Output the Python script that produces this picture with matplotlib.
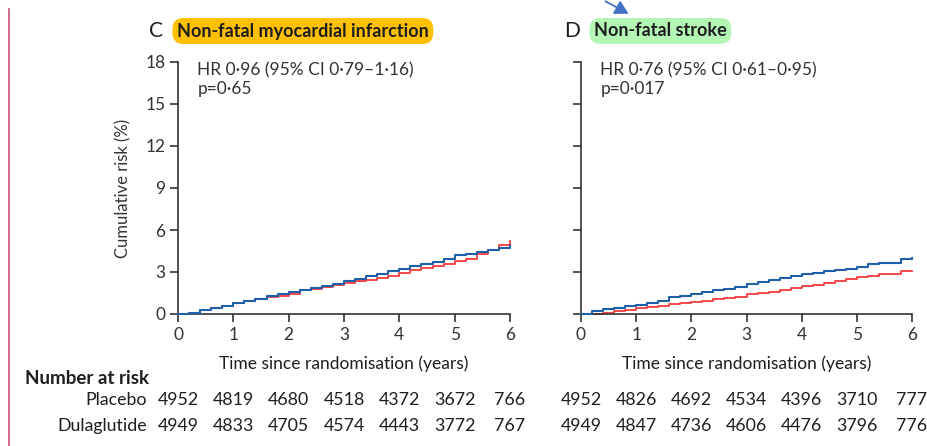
import matplotlib
matplotlib.use("Agg")
import matplotlib.pyplot as plt
from matplotlib.lines import Line2D
from matplotlib.patches import FancyArrowPatch

plt.rcParams['font.family'] = ['Lato', 'DejaVu Sans']

# time grid the curves were read at (years)
years = [0.0, 0.2, 0.4, 0.6, 0.8, 1.0, 1.2, 1.4, 1.6, 1.8, 2.0, 2.2, 2.4, 2.6, 2.8,
         3.0, 3.2, 3.4, 3.6, 3.8, 4.0, 4.2, 4.4, 4.6, 4.8, 5.0, 5.2, 5.4, 5.6, 5.8, 6.0]

# C - non-fatal MI, cumulative risk (%)
mi_placebo = [0, 0.05, 0.3, 0.45, 0.6, 0.8, 0.9, 1.05, 1.3, 1.4, 1.6, 1.75, 1.85, 2.0, 2.15,
              2.35, 2.5, 2.7, 2.85, 3.05, 3.2, 3.4, 3.55, 3.75, 3.95, 4.2, 4.3, 4.45, 4.6, 4.75, 4.85]
mi_dula = [0, 0.1, 0.3, 0.45, 0.6, 0.8, 0.9, 1.05, 1.2, 1.3, 1.45, 1.7, 1.8, 1.9, 2.05,
           2.2, 2.35, 2.45, 2.6, 2.75, 2.95, 3.15, 3.3, 3.45, 3.6, 3.8, 3.95, 4.3, 4.6, 4.9, 5.2]

# D - non-fatal stroke
st_placebo = [0, 0.25, 0.35, 0.45, 0.55, 0.65, 0.8, 0.95, 1.2, 1.3, 1.43, 1.55, 1.7, 1.8, 1.95,
              2.15, 2.3, 2.45, 2.6, 2.75, 2.86, 2.95, 3.05, 3.15, 3.25, 3.38, 3.55, 3.65, 3.65, 3.9, 4.02]
st_dula = [0, 0.0, 0.1, 0.2, 0.3, 0.4, 0.5, 0.55, 0.7, 0.8, 0.88, 0.95, 1.05, 1.15, 1.25,
           1.4, 1.5, 1.6, 1.75, 1.85, 2.0, 2.1, 2.2, 2.35, 2.5, 2.65, 2.75, 2.85, 2.85, 3.05, 3.1]

# number at risk
risk_years = [0, 1, 2, 3, 4, 5, 6]
mi_risk_placebo = [4952, 4819, 4680, 4518, 4372, 3672, 766]
mi_risk_dula = [4949, 4833, 4705, 4574, 4443, 3772, 767]
st_risk_placebo = [4952, 4826, 4692, 4534, 4396, 3710, 777]
st_risk_dula = [4949, 4847, 4736, 4606, 4476, 3796, 776]

BLUE = '#1f5fa8'
RED = '#f23a3a'
INK = '#333333'
TXT = '#1e1e1e'

W, H = 928, 446
fig = plt.figure(figsize=(W / 100, H / 100), dpi=100)


def px(x, y):
    return x / W, 1 - y / H


def make_panel(left, right, letter, letter_x, title, title_x, boxcolor, hr, pval,
               plac, dula, risk_p, risk_d, show_ylabels):
    x0, y0 = px(left, 314)
    x1, y1 = px(right, 62)
    ax = fig.add_axes([x0, y0, x1 - x0, y1 - y0])
    ax.step(years, plac, where='post', color=BLUE, lw=1.5, clip_on=False, zorder=3)
    ax.step(years, dula, where='post', color=RED, lw=1.3, clip_on=False, zorder=2)
    ax.set_xlim(0, 6)
    ax.set_ylim(0, 18)
    ax.set_xticks(range(0, 7))
    ax.set_yticks(range(0, 19, 3))
    for s in ['top', 'right']:
        ax.spines[s].set_visible(False)
    for s in ['left', 'bottom']:
        ax.spines[s].set_color(INK)
        ax.spines[s].set_linewidth(1.2)
    ax.tick_params(direction='out', length=6, width=1.2, color=INK,
                   labelsize=12.5, labelcolor=INK, pad=3)
    if not show_ylabels:
        ax.set_yticklabels([])
    else:
        ax.set_ylabel('Cumulative risk (%)', fontsize=12, color=INK, labelpad=10)
    ax.set_xlabel('Time since randomisation (years)', fontsize=12.5, color=TXT,
                  labelpad=9)
    ax.text(0.35, 18, hr + '\n' + pval, fontsize=12.5, color=INK, va='top', ha='left',
            linespacing=1.2)

    # panel heading
    fig.text(*px(letter_x, 31), letter, fontsize=15, color=TXT, va='center', ha='left')
    fig.text(*px(title_x, 31), title, fontsize=13, fontweight='bold', color=TXT,
             va='center', ha='left',
             bbox=dict(boxstyle='round,pad=0.25,rounding_size=0.6', fc=boxcolor, ec='none'))

    # risk table
    for yr, a, b in zip(risk_years, risk_p, risk_d):
        xx = x0 + (x1 - x0) * yr / 6
        fig.text(xx, px(0, 400)[1], str(a), fontsize=12.8, color=TXT, ha='center', va='center')
        fig.text(xx, px(0, 426)[1], str(b), fontsize=12.8, color=TXT, ha='center', va='center')
    return ax


make_panel(178, 510, 'C', 149, 'Non-fatal myocardial infarction', 177, '#ffc000',
           'HR 0·96 (95% CI 0·79–1·16)', 'p=0·65', mi_placebo, mi_dula,
           mi_risk_placebo, mi_risk_dula, True)
make_panel(581, 912, 'D', 564, 'Non-fatal stroke', 594, '#b4f7b4',
           'HR 0·76 (95% CI 0·61–0·95)', 'p=0·017', st_placebo, st_dula,
           st_risk_placebo, st_risk_dula, False)

fig.text(*px(25, 378), 'Number at risk', fontsize=13.5, fontweight='bold', color=TXT,
         ha='left', va='center')
fig.text(*px(147, 400), 'Placebo', fontsize=12.8, color=TXT, ha='right', va='center')
fig.text(*px(147, 426), 'Dulaglutide', fontsize=12.8, color=TXT, ha='right', va='center')

# page margin line and pointer arrow
fig.add_artist(Line2D([9 / W, 9 / W], [0, 1 - 9 / H], color='#c8506e', lw=1.2))
fig.add_artist(FancyArrowPatch(px(603, 0), px(631, 15),
                               arrowstyle='-|>,head_length=8,head_width=4.5',
                               color='#4472c4', lw=1.3, mutation_scale=1,
                               transform=fig.transFigure))

fig.savefig('out.png', dpi=100)
